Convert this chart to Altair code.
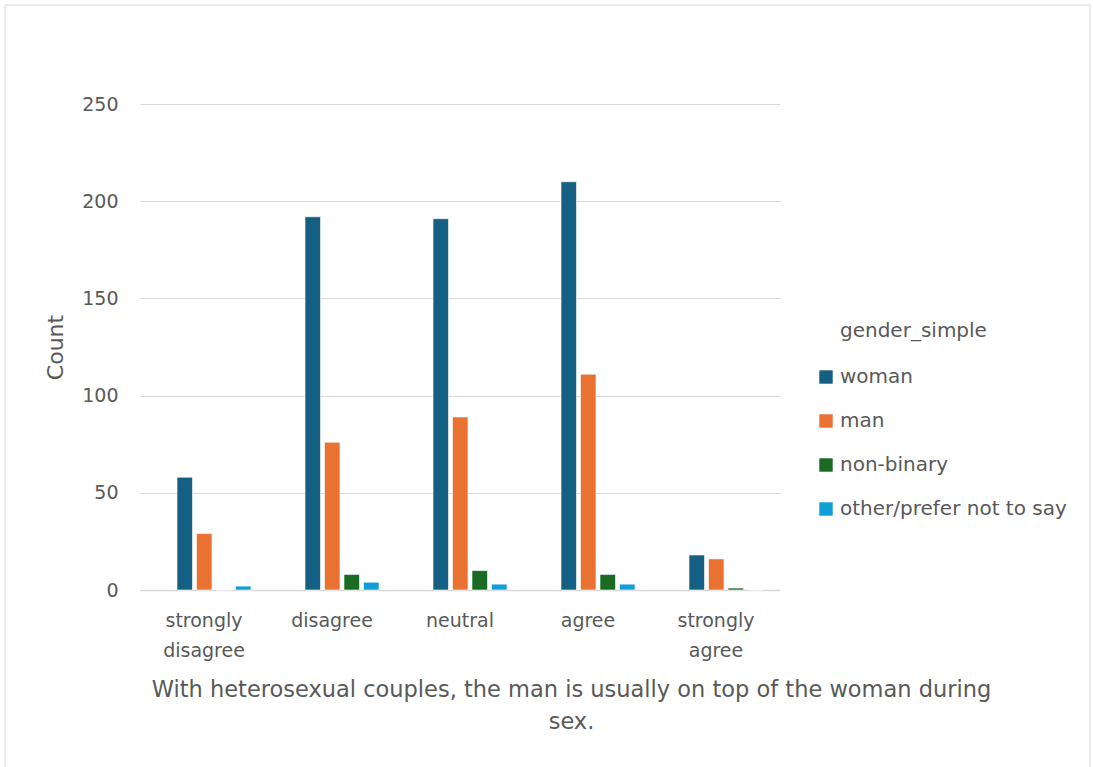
import altair as alt
import pandas as pd

# Survey responses by gender
responses = ["strongly disagree", "disagree", "neutral", "agree", "strongly agree"]
genders = ["woman", "man", "non-binary", "other/prefer not to say"]
colors = ["#156082", "#E97132", "#196B24", "#0F9ED5"]

woman = [58, 192, 191, 210, 18]
man = [29, 76, 89, 111, 16]
non_binary = [0, 8, 10, 8, 1]
other = [2, 4, 3, 3, 0]

legend_title = "gender_simple"

rows = []
for g, series in zip(genders, [woman, man, non_binary, other]):
    for r, v in zip(responses, series):
        rows.append({"response": r, "gender_simple": g, "count": v})
df = pd.DataFrame(rows)

FONT = "DejaVu Sans"
TXT = "#595959"

bars = alt.Chart(df).mark_bar(stroke="white", strokeWidth=0.6).encode(
    x=alt.X(
        "response:N",
        sort=responses,
        scale=alt.Scale(paddingInner=0, paddingOuter=0),
        axis=alt.Axis(
            title=["With heterosexual couples, the man is usually on top of the woman during", "sex."],
            titleX=431,
            titleY=88,
            titleAnchor="middle",
            titleAlign="center",
            titleFontSize=22.5,
            titleFontWeight="normal",
            titleColor=TXT,
            titleFont=FONT,
            titleLineHeight=32,
            labelExpr="split(datum.label, ' ')",
            labelAngle=0,
            labelFontSize=19,
            labelLineHeight=30,
            labelColor=TXT,
            labelFont=FONT,
            labelPadding=21,
            ticks=False,
            domainColor="#d9d9d9",
            domainWidth=1.5,
        ),
    ),
    xOffset=alt.XOffset(
        "gender_simple:N",
        sort=genders,
        scale=alt.Scale(paddingInner=0.205, paddingOuter=0, range=[37, 111]),
    ),
    y=alt.Y(
        "count:Q",
        scale=alt.Scale(domain=[0, 250]),
        axis=alt.Axis(
            title="Count",
            values=[0, 50, 100, 150, 200, 250],
            titleFontSize=22,
            titleFontWeight="normal",
            titleColor=TXT,
            titleFont=FONT,
            titlePadding=14,
            labelFontSize=19,
            labelColor=TXT,
            labelFont=FONT,
            labelPadding=22,
            ticks=False,
            domain=False,
            gridColor="#d9d9d9",
            gridWidth=1.2,
        ),
    ),
    color=alt.Color(
        "gender_simple:N",
        sort=genders,
        scale=alt.Scale(domain=genders, range=colors),
        legend=alt.Legend(
            title=None,
            orient="none",
            legendX=676,
            legendY=263,
            labelFontSize=20,
            labelColor=TXT,
            labelFont=FONT,
            labelOffset=4,
            labelLimit=0,
            symbolType="square",
            symbolSize=180,
            symbolStrokeWidth=0,
            rowPadding=24,
        ),
    ),
)

# legend heading, indented to line up with the entry labels
heading = alt.Chart(alt.Data(values=[{"t": legend_title}])).mark_text(
    align="left", baseline="middle", font=FONT, fontSize=20, color=TXT
).encode(text="t:N", x=alt.value(700), y=alt.value(227))

frame = alt.Chart(alt.Data(values=[{}])).mark_rect(
    fill=None, stroke="#d9d9d9", strokeWidth=1
).encode(
    x=alt.value(-135), x2=alt.value(950), y=alt.value(-99), y2=alt.value(700)
)

chart = alt.layer(frame, bars, heading).properties(
    width=640,
    height=486,
    padding={"left": 140, "top": 104, "right": 313, "bottom": 177},
    autosize="none",
    background="white",
).configure_view(stroke=None)

chart.save("out.html", embed_options={"renderer": "svg", "actions": False})
